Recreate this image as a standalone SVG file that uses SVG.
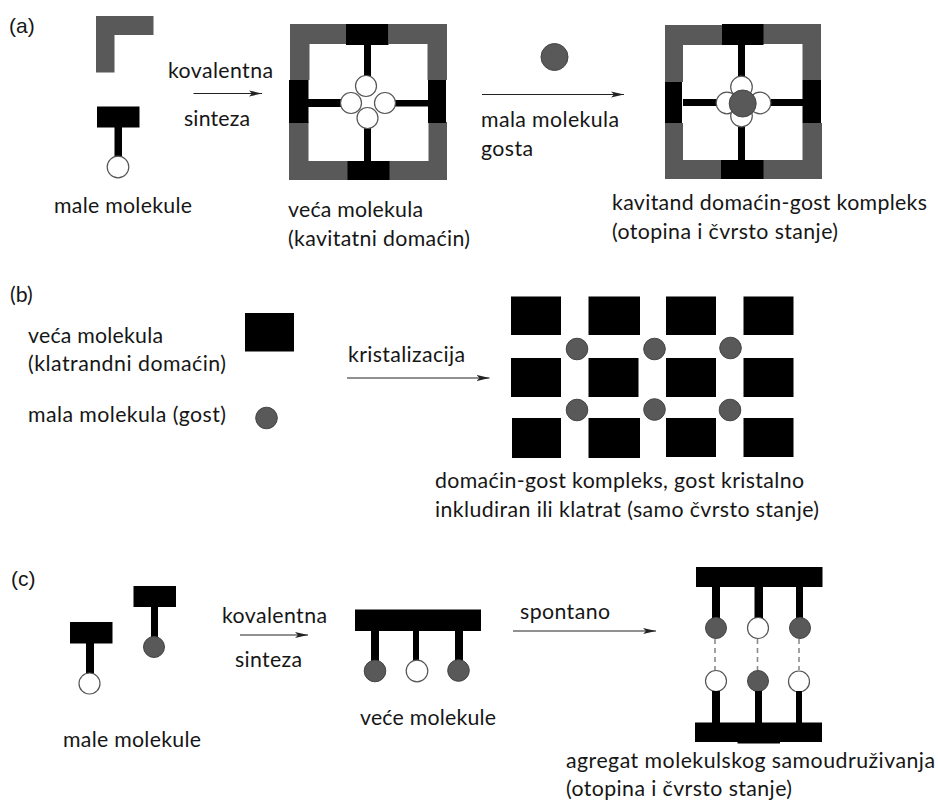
<svg xmlns="http://www.w3.org/2000/svg" width="938" height="800" viewBox="0 0 938 800">
<style>
text{font-family:"Lato","Open Sans","Liberation Sans",sans-serif;font-size:21.3px;fill:#161616}
text.ar{font-family:"Liberation Sans",Arial,sans-serif;font-size:21px}
.g{fill:#595959}
.k{fill:#000}
.w{fill:#fff;stroke:#555;stroke-width:1.2}
.d{fill:#595959;stroke:#444;stroke-width:1}
.c{fill:none;stroke:#222;stroke-width:1.1;marker-end:url(#ah)}
.ds{fill:none;stroke:#8a8a8a;stroke-width:1.6;stroke-dasharray:5 4}
</style>
<defs>
<marker id="ah" markerUnits="userSpaceOnUse" markerWidth="14" markerHeight="8" refX="13" refY="4" orient="auto"><path d="M0 1L13 4L0 7L3 4Z" fill="#222"/></marker>
</defs>
<rect width="938" height="800" fill="#fff"/>

<g id="connectors">
<path class="c" d="M193.500 93.500H262"/>
<path class="c" d="M482 94.500H624"/>
<path class="c" d="M347 378H489.500"/>
<path class="c" d="M240 635H308"/>
<path class="c" d="M513 631H656"/>
</g>

<g id="panel-a-labels">
<text class="ar" x="9" y="33">(a)</text>
<text x="168" y="78" textLength="105">kovalentna</text>
<text x="184" y="126" textLength="66">sinteza</text>
<text x="54" y="212.500" textLength="138">male molekule</text>
<text x="288" y="217" textLength="135">veća molekula</text>
<text x="288" y="246" textLength="182">(kavitatni domaćin)</text>
<text x="481" y="127" textLength="138">mala molekula</text>
<text x="481" y="156" textLength="52">gosta</text>
<text x="612" y="210" textLength="315">kavitand domaćin-gost kompleks</text>
<text x="612" y="238.500" textLength="226">(otopina i čvrsto stanje)</text>
</g>

<g id="a-corner">
<path class="g" d="M96 16H153.500V35H114.500V72.500H96Z"/>
</g>
<g id="a-small-white">
<rect class="k" x="97" y="106.500" width="42.500" height="21"/>
<rect class="k" x="114.500" y="127" width="7.500" height="31"/>
<circle class="w" cx="118" cy="167" r="10.800"/>
</g>

<g id="a-host">
<path class="g" d="M290 24H347V44H309.500V80H290Z"/>
<path class="g" d="M388.500 24H447V80H427.500V44H388.500Z"/>
<path class="g" d="M289 122H308.500V161H348V180H289Z"/>
<path class="g" d="M428.500 122H447V180H389V161H428.500Z"/>
<rect class="k" x="346" y="24" width="42.500" height="21"/>
<rect class="k" x="364" y="45" width="7" height="33"/>
<rect class="k" x="289" y="80" width="19.500" height="43"/>
<rect class="k" x="308" y="99" width="34" height="8"/>
<rect class="k" x="428" y="80" width="18" height="43"/>
<rect class="k" x="395" y="100" width="33" height="6.500"/>
<rect class="k" x="347.500" y="161" width="42" height="19"/>
<rect class="k" x="364" y="127" width="7" height="34"/>
<circle class="w" cx="366" cy="86" r="10.500"/>
<circle class="w" cx="351" cy="103" r="10.500"/>
<circle class="w" cx="385" cy="103" r="10.500"/>
<circle class="w" cx="367.500" cy="118" r="10.500"/>
</g>

<g id="a-guest">
<circle class="d" cx="554.500" cy="57" r="13.500"/>
</g>

<g id="a-complex">
<path class="g" d="M665 25H722V45H683V82H665Z"/>
<path class="g" d="M763 24H821V80H802.500V44H763Z"/>
<path class="g" d="M665 123H683V160H721V179H665Z"/>
<path class="g" d="M802.500 123H822V179H763V160H802.500Z"/>
<rect class="k" x="722" y="24" width="41.500" height="21"/>
<rect class="k" x="738" y="45" width="7" height="32"/>
<rect class="k" x="665" y="82" width="17" height="41"/>
<rect class="k" x="683" y="99" width="34" height="7"/>
<rect class="k" x="802.500" y="80" width="18.500" height="43"/>
<rect class="k" x="771" y="99" width="32" height="7"/>
<rect class="k" x="721" y="160" width="42.500" height="19"/>
<rect class="k" x="738" y="127" width="7" height="33"/>
<circle class="w" cx="741.500" cy="87" r="10.800"/>
<circle class="w" cx="727" cy="103" r="10.800"/>
<circle class="w" cx="760" cy="103" r="10.800"/>
<circle class="w" cx="741.500" cy="116" r="10.800"/>
<circle class="d" cx="742.700" cy="103.500" r="13.500"/>
</g>

<g id="panel-b-labels">
<text x="10" y="302">(b)</text>
<text x="28" y="342.500" textLength="135">veća molekula</text>
<text x="28" y="371" textLength="198">(klatrandni domaćin)</text>
<text x="28" y="421.500" textLength="198">mala molekula (gost)</text>
<text x="348" y="361.500" textLength="117">kristalizacija</text>
<text x="435" y="488" textLength="369">domaćin-gost kompleks, gost kristalno</text>
<text x="435" y="516.500" textLength="384">inkludiran ili klatrat (samo čvrsto stanje)</text>
</g>

<g id="b-host"><rect class="k" x="245" y="313" width="49" height="38.500"/></g>
<g id="b-guest"><circle class="d" cx="266.500" cy="418" r="10.800"/></g>

<g id="b-lattice">
<rect class="k" x="511" y="296.500" width="50" height="38.500"/>
<rect class="k" x="588.500" y="296.500" width="51.500" height="38.500"/>
<rect class="k" x="666" y="296.500" width="50" height="38.500"/>
<rect class="k" x="743.500" y="296.500" width="50" height="38.500"/>
<rect class="k" x="511" y="358" width="50" height="39"/>
<rect class="k" x="588.500" y="358" width="50" height="39"/>
<rect class="k" x="666" y="358" width="50" height="39"/>
<rect class="k" x="743.500" y="358" width="50" height="39"/>
<rect class="k" x="512" y="418" width="49" height="40"/>
<rect class="k" x="588.500" y="418" width="51.500" height="40"/>
<rect class="k" x="666" y="418" width="50" height="39"/>
<rect class="k" x="743.500" y="418" width="50" height="39"/>
<circle class="d" cx="577" cy="349" r="10.800"/>
<circle class="d" cx="654.500" cy="349" r="10.800"/>
<circle class="d" cx="730.500" cy="348" r="10.800"/>
<circle class="d" cx="577" cy="410" r="10.800"/>
<circle class="d" cx="654.500" cy="409.500" r="10.800"/>
<circle class="d" cx="730" cy="410" r="10.800"/>
</g>

<g id="panel-c-labels">
<text class="ar" x="11" y="586">(c)</text>
<text x="222" y="623" textLength="105">kovalentna</text>
<text x="235" y="667" textLength="67">sinteza</text>
<text x="63" y="747" textLength="138">male molekule</text>
<text x="360" y="725" textLength="136">veće molekule</text>
<text x="520" y="619" textLength="90">spontano</text>
<text x="566" y="768" textLength="369">agregat molekulskog samoudruživanja</text>
<text x="566" y="796" textLength="226">(otopina i čvrsto stanje)</text>
</g>

<g id="c-small-white">
<rect class="k" x="70" y="622" width="42.500" height="21.500"/>
<rect class="k" x="86" y="643" width="8" height="31"/>
<circle class="w" cx="89.500" cy="683.500" r="10.500"/>
</g>
<g id="c-small-dark">
<rect class="k" x="133.500" y="586" width="42.500" height="21"/>
<rect class="k" x="151" y="607" width="7" height="31"/>
<circle class="d" cx="154" cy="647" r="10.500"/>
</g>

<g id="c-larger">
<rect class="k" x="355" y="609.500" width="126" height="21.500"/>
<rect class="k" x="371" y="631" width="8" height="30"/>
<rect class="k" x="413" y="631" width="6" height="30"/>
<rect class="k" x="455" y="631" width="8" height="30"/>
<circle class="d" cx="375" cy="671" r="10.800"/>
<circle class="w" cx="417" cy="671" r="10.800"/>
<circle class="d" cx="458.500" cy="670.500" r="10.800"/>
</g>

<g id="c-aggregate">
<rect class="k" x="696" y="567" width="126.500" height="20"/>
<rect class="k" x="712" y="587" width="8" height="35"/>
<rect class="k" x="754.500" y="587" width="8.500" height="33"/>
<rect class="k" x="796" y="587" width="7" height="35"/>
<path class="ds" d="M715 639V670"/>
<path class="ds" d="M757.500 639V670"/>
<path class="ds" d="M799 639V670"/>
<circle class="d" cx="716" cy="628" r="10.500"/>
<circle class="w" cx="758" cy="628" r="10.500"/>
<circle class="d" cx="800" cy="628" r="10.500"/>
<circle class="w" cx="716" cy="681" r="10.500"/>
<circle class="d" cx="758" cy="681" r="10.500"/>
<circle class="w" cx="799" cy="681.500" r="10.500"/>
<rect class="k" x="712" y="691" width="8" height="32"/>
<rect class="k" x="755" y="691" width="7" height="32"/>
<rect class="k" x="796" y="691" width="6" height="32"/>
<rect class="k" x="695" y="722.500" width="127" height="19.500"/>
<rect class="k" x="737.500" y="742" width="42.500" height="1.500"/>
</g>
</svg>
